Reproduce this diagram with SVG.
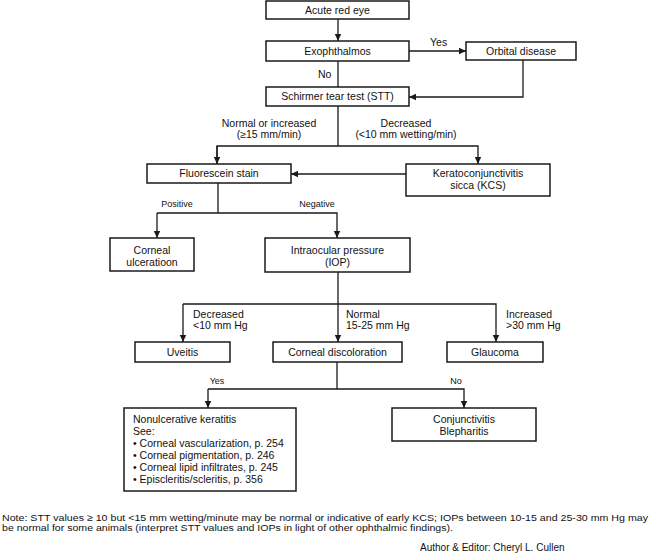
<svg xmlns="http://www.w3.org/2000/svg" width="650" height="558" viewBox="0 0 650 558">
<style>
.box{fill:#fff;stroke:#1a1a1a;stroke-width:1.5}
.t{font-family:"Liberation Sans",Arial,sans-serif;font-size:10.5px;fill:#111}
.c{text-anchor:middle}
.s{font-size:9px}
.n{font-size:9.6px}
.ln{fill:none;stroke:#1a1a1a;stroke-width:1.3}
</style>
<defs>
<marker id="ah" markerWidth="8" markerHeight="8" refX="7" refY="4" orient="auto" markerUnits="userSpaceOnUse">
<path d="M0,0.8 L7,4 L0,7.2 Z" fill="#1a1a1a"/>
</marker>
</defs>
<rect width="650" height="558" fill="#fff"/>
<g id="connectors">
<path class="ln" d="M338,19 V41" marker-end="url(#ah)"/>
<path class="ln" d="M409,51 H466" marker-end="url(#ah)"/>
<path class="ln" d="M338,61 V87"/>
<path class="ln" d="M523,60 V97 H409" marker-end="url(#ah)"/>
<path class="ln" d="M338,106 V146"/>
<path class="ln" d="M217,164 V146 H478 V164" marker-end="url(#ah)"/>
<path class="ln" d="M217,146 V164" marker-end="url(#ah)"/>
<path class="ln" d="M406,174 H291" marker-end="url(#ah)"/>
<path class="ln" d="M218,183 V213"/>
<path class="ln" d="M157,213 H337 V238" marker-end="url(#ah)"/>
<path class="ln" d="M157,213 V238" marker-end="url(#ah)"/>
<path class="ln" d="M338,272 V304"/>
<path class="ln" d="M183,304 H496 V342" marker-end="url(#ah)"/>
<path class="ln" d="M183,304 V342" marker-end="url(#ah)"/>
<path class="ln" d="M338,304 V342" marker-end="url(#ah)"/>
<path class="ln" d="M337,362 V389"/>
<path class="ln" d="M208,389 H464 V408" marker-end="url(#ah)"/>
<path class="ln" d="M208,389 V408" marker-end="url(#ah)"/>
<text class="t" x="430" y="46">Yes</text>
<text class="t" x="318" y="78">No</text>
<text class="t c" x="269" y="127">Normal or increased</text>
<text class="t c" x="269" y="138">(≥15 mm/min)</text>
<text class="t c" x="406" y="127">Decreased</text>
<text class="t c" x="406" y="138">(&lt;10 mm wetting/min)</text>
<text class="t s c" x="177" y="207">Positive</text>
<text class="t s c" x="317" y="207">Negative</text>
<text class="t" x="193" y="318">Decreased</text>
<text class="t" x="193" y="329">&lt;10 mm Hg</text>
<text class="t" x="346" y="318">Normal</text>
<text class="t" x="346" y="329">15-25 mm Hg</text>
<text class="t" x="506" y="318">Increased</text>
<text class="t" x="506" y="329">&gt;30 mm Hg</text>
<text class="t s c" x="217" y="384">Yes</text>
<text class="t s c" x="456" y="384">No</text>
</g>
<g id="acute">
<rect class="box" x="266" y="1" width="143" height="18"/>
<text class="t c" x="337.5" y="14">Acute red eye</text>
</g>
<g id="exophthalmos">
<rect class="box" x="266" y="41" width="143" height="20"/>
<text class="t c" x="337.5" y="55">Exophthalmos</text>
</g>
<g id="orbital">
<rect class="box" x="466" y="42" width="110" height="18"/>
<text class="t c" x="521" y="55">Orbital disease</text>
</g>
<g id="schirmer">
<rect class="box" x="266" y="87" width="143" height="19"/>
<text class="t c" x="337.5" y="100">Schirmer tear test (STT)</text>
</g>
<g id="fluorescein">
<rect class="box" x="147" y="164" width="144" height="19"/>
<text class="t c" x="219" y="177">Fluorescein stain</text>
</g>
<g id="kcs">
<rect class="box" x="406" y="164" width="144" height="32"/>
<text class="t c" x="478" y="177">Keratoconjunctivitis</text>
<text class="t c" x="478" y="189">sicca (KCS)</text>
</g>
<g id="ulceration">
<rect class="box" x="110" y="238" width="84" height="33"/>
<text class="t c" x="152" y="254">Corneal</text>
<text class="t c" x="152" y="266">ulceratioon</text>
</g>
<g id="iop">
<rect class="box" x="265" y="238" width="145" height="34"/>
<text class="t c" x="337.5" y="254">Intraocular pressure</text>
<text class="t c" x="337.5" y="266">(IOP)</text>
</g>
<g id="uveitis">
<rect class="box" x="135" y="342" width="95" height="20"/>
<text class="t c" x="182.5" y="356">Uveitis</text>
</g>
<g id="discoloration">
<rect class="box" x="273" y="342" width="129" height="20"/>
<text class="t c" x="337.5" y="356">Corneal discoloration</text>
</g>
<g id="glaucoma">
<rect class="box" x="447" y="342" width="96" height="20"/>
<text class="t c" x="495" y="356">Glaucoma</text>
</g>
<g id="nonulcerative">
<rect class="box" x="124" y="408" width="172" height="83"/>
<text class="t" x="133" y="423">Nonulcerative keratitis</text>
<text class="t" x="133" y="435">See:</text>
<text class="t" x="133" y="447">• Corneal vascularization, p. 254</text>
<text class="t" x="133" y="459">• Corneal pigmentation, p. 246</text>
<text class="t" x="133" y="471">• Corneal lipid infiltrates, p. 245</text>
<text class="t" x="133" y="483">• Episcleritis/scleritis, p. 356</text>
</g>
<g id="conjunctivitis">
<rect class="box" x="392" y="408" width="144" height="33"/>
<text class="t c" x="464" y="423">Conjunctivitis</text>
<text class="t c" x="464" y="435">Blepharitis</text>
</g>
<g id="notes">
<text class="t n" x="2" y="521" textLength="646" lengthAdjust="spacingAndGlyphs">Note: STT values ≥ 10 but &lt;15 mm wetting/minute may be normal or indicative of early KCS; IOPs between 10-15 and 25-30 mm Hg may</text>
<text class="t n" x="2" y="531" textLength="451" lengthAdjust="spacingAndGlyphs">be normal for some animals (interpret STT values and IOPs in light of other ophthalmic findings).</text>
<text class="t" x="420" y="551" style="font-size:10px">Author &amp; Editor: Cheryl L. Cullen</text>
</g>
</svg>
